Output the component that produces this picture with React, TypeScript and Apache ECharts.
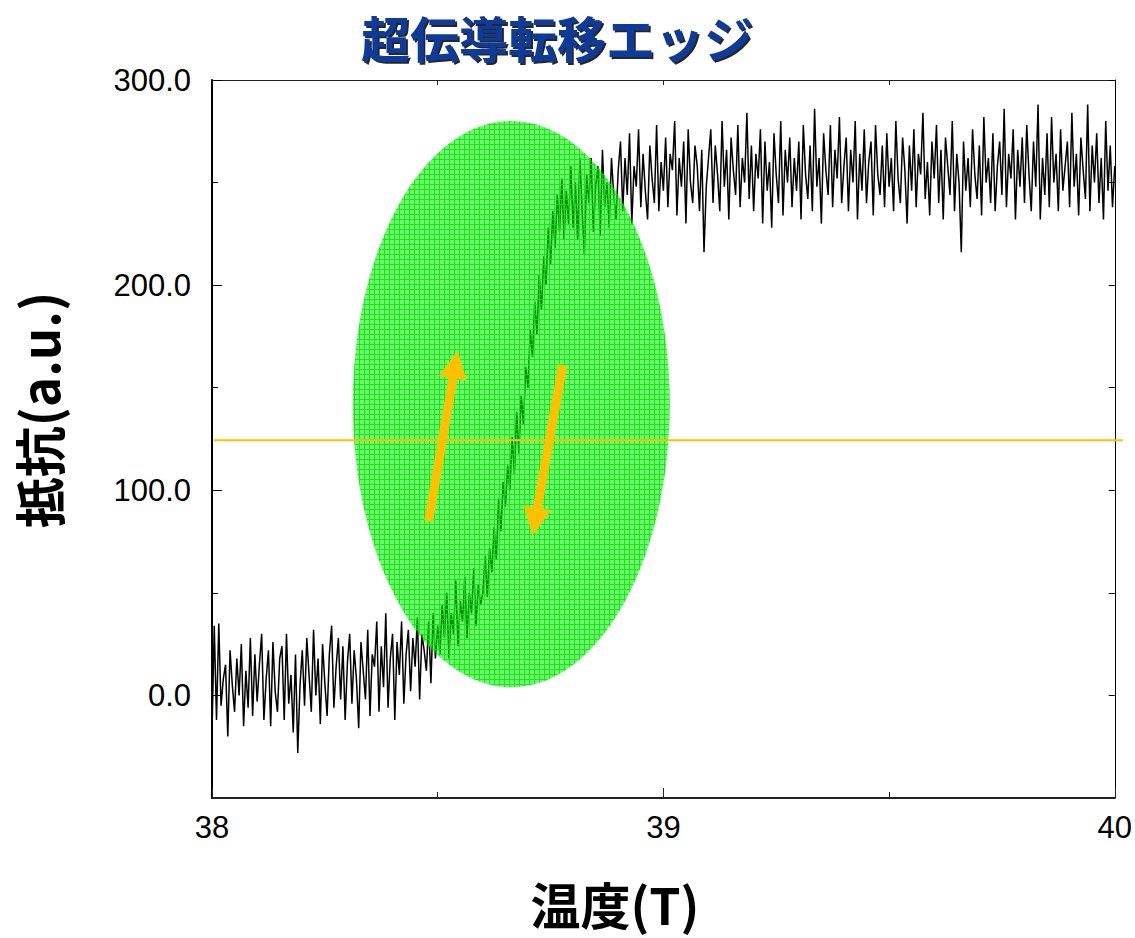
import React, { useEffect, useRef } from "react";
import * as echarts from "echarts";

// ---- data ----
const X_START = 38;
const X_STEP = 0.005;
const resistance: number[] = [
  -18, 34, -12, 35, -5, 8, 15, -20, 22, 5, -8, 18, 0, 25, -15, 12, -6, 28, -10, 20,
  -3, 15, 30, -12, 8, 22, -15, 26, 2, -8, 18, 24, -12, 30, -4, 10, -18, 20, -28, 5,
  22, -5, 28, 10, -8, 32, 0, 18, -14, 25, 6, -10, 20, 34, -6, 14, 28, -2, 24, -12,
  16, 30, -4, 22, 8, -16, 26, 12, -2, 32, -10, 20, 14, 36, -8, 24, 4, 40, -6, 18,
  30, -12, 26, 10, 36, -4, 20, 32, 2, 28, 14, 38, -2, 30, 22, 12, 36, 6, 40, 18,
  34, 20, 44, 28, 50, 18, 40, 30, 56, 24, 46, 36, 58, 28, 50, 40, 62, 34, 54, 44,
  50, 68, 48, 72, 60, 82, 66, 96, 80, 104, 92, 112, 100, 126, 108, 138, 118, 146, 132, 160,
  150, 178, 165, 192, 176, 205, 188, 214, 200, 228, 210, 236, 218, 244, 226, 252, 222, 246, 230, 258,
  228, 250, 222, 262, 236, 215, 254, 240, 262, 226, 248, 258, 224, 266, 238, 250, 228, 262, 244, 232,
  256, 270, 236, 262, 244, 274, 230, 258, 248, 276, 238, 264, 246, 232, 268, 252, 240, 278, 236, 260,
  246, 272, 238, 264, 256, 280, 234, 262, 248, 270, 230, 276, 250, 240, 268, 258, 236, 266, 216, 248,
  262, 276, 240, 268, 254, 236, 280, 248, 266, 232, 272, 256, 244, 278, 238, 262, 250, 284, 242, 268,
  236, 264, 252, 276, 230, 270, 246, 260, 228, 274, 254, 240, 280, 234, 266, 250, 272, 238, 262, 246,
  270, 232, 278, 254, 242, 268, 236, 286, 248, 262, 230, 274, 256, 244, 278, 238, 266, 252, 282, 240,
  258, 272, 236, 266, 250, 280, 232, 264, 246, 276, 240, 260, 270, 234, 278, 254, 244, 268, 238, 274,
  248, 262, 236, 280, 252, 240, 272, 256, 230, 268, 246, 276, 238, 264, 254, 284, 242, 260, 234, 270,
  252, 278, 240, 266, 232, 272, 258, 244, 280, 236, 264, 250, 216, 270, 246, 262, 238, 276, 254, 242,
  268, 234, 282, 250, 262, 240, 274, 236, 258, 270, 244, 286, 238, 264, 252, 276, 232, 266, 248, 272,
  240, 278, 254, 236, 270, 248, 288, 232, 262, 244, 274, 238, 282, 250, 264, 236, 276, 246, 258, 270,
  238, 284, 248, 264, 234, 272, 256, 242, 288, 236, 268, 250, 274, 240, 262, 232, 280, 246, 268, 238, 258,
];
const xTicksMajor = [38, 39, 40];
const xTicksMinor = [38.5, 39.5];
const yTicksMajor = [0, 100, 200, 300];
const yTicksMinor = [50, 150, 250];
const thresholdLevel = 124.4;

const TITLE = "超伝導転移エッジ";
const X_NAME = "温度(T)";
const Y_NAME = "抵抗(a.u.)";

// annotation geometry (data units)
const ellipseCenter = [38.663, 142];
const ellipseRadius = [0.351, 138];
const arrowUp = [[38.48, 85], [38.544, 168]];
const arrowDown = [[38.777, 161], [38.71, 78]];
const thresholdSpan = [38.004, 40.018];

const ORANGE = "#FFC000";
const TICK_FONT = "'Liberation Sans', Arial, sans-serif";
const CJK_FONT = "'Noto Sans CJK JP', sans-serif";

function makeArrow(p0: number[], p1: number[]) {
  const dx = p1[0] - p0[0];
  const dy = p1[1] - p0[1];
  const len = Math.sqrt(dx * dx + dy * dy);
  const ux = dx / len;
  const uy = dy / len;
  const headLen = 28;
  const headHalf = 14;
  const bx = p1[0] - ux * headLen;
  const by = p1[1] - uy * headLen;
  const px = -uy;
  const py = ux;
  return [
    {
      type: "line",
      z: 20,
      shape: { x1: p0[0], y1: p0[1], x2: bx + ux * 2, y2: by + uy * 2 },
      style: { stroke: ORANGE, lineWidth: 9 },
    },
    {
      type: "polygon",
      z: 20,
      shape: {
        points: [
          [p1[0], p1[1]],
          [bx + px * headHalf, by + py * headHalf],
          [bx - px * headHalf, by - py * headHalf],
        ],
      },
      style: { fill: ORANGE },
    },
  ];
}

export default function App() {
  const ref = useRef<HTMLDivElement>(null);

  useEffect(() => {
    if (!ref.current) return;
    const chart = echarts.init(ref.current, undefined, { renderer: "svg" });

    const points = resistance.map((v, i) => [+(X_START + i * X_STEP).toFixed(3), v]);

    const yCommon = { type: "value", min: -50, max: 300, splitLine: { show: false } };
    const xCommon = { type: "value", min: 38, max: 40, splitLine: { show: false } };

    chart.setOption({
      animation: false,
      backgroundColor: "#ffffff",
      grid: { left: 212, top: 80, right: 19, bottom: 140, containLabel: false },
      xAxis: [
        {
          ...xCommon,
          position: "bottom",
          axisLine: { show: true, onZero: false, lineStyle: { color: "#222", width: 2 } },
          axisTick: { show: true, inside: true, length: 10, customValues: xTicksMajor, lineStyle: { color: "#222" } },
          axisLabel: {
            show: true,
            customValues: xTicksMajor,
            formatter: (v: number) => String(v),
            color: "#000",
            fontSize: 31,
            fontFamily: TICK_FONT,
            margin: 14,
          },
        },
        {
          ...xCommon,
          position: "bottom",
          axisLine: { show: false, onZero: false },
          axisTick: { show: true, inside: true, length: 6, customValues: xTicksMinor, lineStyle: { color: "#222" } },
          axisLabel: { show: false },
        },
        {
          ...xCommon,
          position: "top",
          axisLine: { show: true, onZero: false, lineStyle: { color: "#222", width: 1 } },
          axisTick: { show: true, inside: true, length: 5, customValues: [38.5, 39, 39.5], lineStyle: { color: "#222" } },
          axisLabel: { show: false },
        },
      ],
      yAxis: [
        {
          ...yCommon,
          position: "left",
          axisLine: { show: true, onZero: false, lineStyle: { color: "#000", width: 2 } },
          axisTick: { show: true, inside: true, length: 10, customValues: yTicksMajor, lineStyle: { color: "#000" } },
          axisLabel: {
            show: true,
            customValues: yTicksMajor,
            formatter: (v: number) => v.toFixed(1),
            color: "#000",
            fontSize: 31,
            fontFamily: TICK_FONT,
            margin: 21,
          },
        },
        {
          ...yCommon,
          position: "left",
          axisLine: { show: false, onZero: false },
          axisTick: { show: true, inside: true, length: 6, customValues: yTicksMinor, lineStyle: { color: "#000" } },
          axisLabel: { show: false },
        },
        {
          ...yCommon,
          position: "right",
          axisLine: { show: true, onZero: false, lineStyle: { color: "#000", width: 1 } },
          axisTick: { show: true, inside: true, length: 6, customValues: yTicksMajor.concat(yTicksMinor), lineStyle: { color: "#000" } },
          axisLabel: { show: false },
        },
      ],
      series: [
        {
          type: "line",
          xAxisIndex: 0,
          yAxisIndex: 0,
          data: points,
          showSymbol: false,
          symbol: "none",
          lineStyle: { color: "#000", width: 1.5 },
          z: 2,
        },
      ],
    });

    const toPx = (p: number[]) => chart.convertToPixel({ gridIndex: 0 }, p) as number[];

    const c = toPx(ellipseCenter);
    const edge = toPx([ellipseCenter[0] + ellipseRadius[0], ellipseCenter[1] + ellipseRadius[1]]);
    const rx = Math.abs(edge[0] - c[0]);
    const ry = Math.abs(edge[1] - c[1]);

    const pc = document.createElement("canvas");
    pc.width = 5;
    pc.height = 5;
    const ctx = pc.getContext("2d");
    if (ctx) {
      ctx.fillStyle = "rgba(0,240,0,0.55)";
      ctx.fillRect(0, 0, 5, 5);
      ctx.fillStyle = "rgba(0,235,0,0.85)";
      ctx.fillRect(0, 4, 5, 1);
      ctx.fillRect(4, 0, 1, 4);
    }

    const hl0 = toPx([thresholdSpan[0], thresholdLevel]);
    const hl1 = toPx([thresholdSpan[1], thresholdLevel]);

    const graphics: any[] = [
      {
        type: "ellipse",
        z: 10,
        shape: { cx: c[0], cy: c[1], rx, ry },
        style: { fill: { image: pc, repeat: "repeat", imageWidth: 5, imageHeight: 5 } as any },
      },
      {
        type: "line",
        z: 15,
        shape: { x1: hl0[0], y1: hl0[1], x2: hl1[0], y2: hl1[1] },
        style: { stroke: ORANGE, lineWidth: 2 },
      },
      ...makeArrow(toPx(arrowUp[0]), toPx(arrowUp[1])),
      ...makeArrow(toPx(arrowDown[0]), toPx(arrowDown[1])),
      {
        type: "text",
        z: 30,
        x: 557,
        y: 36,
        style: {
          text: TITLE,
          font: `bold 49px ${CJK_FONT}`,
          fill: "#0b3a9b",
          textAlign: "center",
          textVerticalAlign: "middle",
          textShadowColor: "rgba(0,0,0,0.85)",
          textShadowOffsetX: 2,
          textShadowOffsetY: 2,
          textShadowBlur: 1,
        },
      },
      {
        type: "text",
        z: 30,
        x: 615,
        y: 903,
        style: {
          text: X_NAME,
          font: `bold 50px ${CJK_FONT}`,
          fill: "#000",
          textAlign: "center",
          textVerticalAlign: "middle",
        },
      },
      {
        type: "text",
        z: 30,
        x: 38,
        y: 410,
        rotation: Math.PI / 2,
        style: {
          text: Y_NAME,
          font: `bold 51px ${CJK_FONT}`,
          fill: "#000",
          textAlign: "center",
          textVerticalAlign: "middle",
        },
      },
    ];

    chart.setOption({ graphic: graphics });

    return () => chart.dispose();
  }, []);

  return (
    <div
      ref={ref}
      style={{ position: "absolute", left: 0, top: 0, width: 1135, height: 938 }}
    />
  );
}
